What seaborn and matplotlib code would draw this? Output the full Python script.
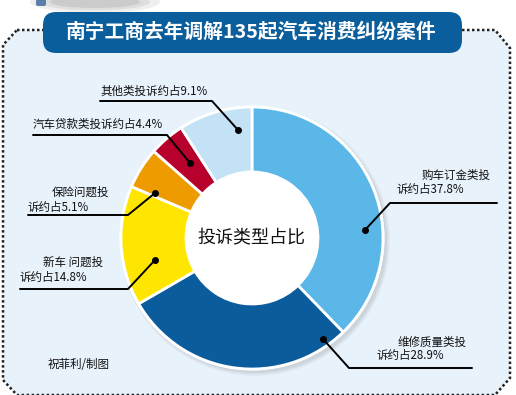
import matplotlib
matplotlib.use("Agg")
import matplotlib.pyplot as plt
import seaborn as sns
from matplotlib.patches import Polygon, FancyBboxPatch, Circle, Ellipse

sns.set_theme(style="white")
plt.rcParams['font.family'] = ['Noto Sans CJK SC', 'DejaVu Sans']

# data
categories = ['购车订金类', '维修质量类', '新车问题', '保险问题', '汽车贷款类', '其他类']
shares = [37.8, 28.9, 14.8, 5.1, 4.4, 9.1]
colors = ['#5ab7e8', '#0a5c9d', '#ffe600', '#ee9b00', '#b7002c', '#c4e2f5']
label_line1 = ['购车订金类投', '维修质量类投', '新车 问题投', '保险问题投', '汽车贷款类投诉约占4.4%', '其他类投诉约占9.1%']
label_line2 = ['诉约占37.8%', '诉约占28.9%', '诉约占14.8%', '诉约占5.1%', '', '']

W, H = 516, 395
def Y(y):
    return H - y

fig = plt.figure(figsize=(W / 100, H / 100), dpi=100)
fig.patch.set_facecolor('white')
ax = fig.add_axes([0, 0, 1, 1])

# dotted octagon frame
frame = [(17, 30), (495, 30), (510, 48), (510, 378), (495, 395), (17, 395), (3, 380), (3, 45)]
ax.add_patch(Polygon([(x, Y(y)) for x, y in frame], closed=True, facecolor='#e8f2fb',
                     edgecolor='#222222', linestyle=(0, (1, 1)), linewidth=1.8, zorder=1))

# faint grey fragment top left (cut-off picture above the chart)
for i, a in enumerate([0.12, 0.15, 0.2]):
    ax.add_patch(Ellipse((95, Y(2)), 130 - i * 20, 22 - i * 5, facecolor='#808080',
                         edgecolor='none', alpha=a, zorder=1))
ax.add_patch(FancyBboxPatch((36, Y(6)), 10, 8, boxstyle='round,pad=0,rounding_size=2',
                            facecolor='#5a7fa8', edgecolor='none', zorder=1))

# banner
ax.add_patch(FancyBboxPatch((43, Y(53)), 419, 41, boxstyle='round,pad=0,rounding_size=13',
                            facecolor='#0b5e9c', edgecolor='none', zorder=2))
ax.text(251, Y(32), '南宁工商去年调解135起汽车消费纠纷案件', color='white', fontsize=14.2,
        fontweight='bold', ha='center', va='center', zorder=3)

# donut
cx, cy, r_out, r_in = 252, 238, 131, 66
for i, a in enumerate([0.05, 0.07, 0.09]):
    ax.add_patch(Circle((cx + 3, Y(cy + 3)), r_out + 4 - i * 1.5, facecolor='#606060',
                        edgecolor='none', alpha=a, zorder=2))
ax.add_patch(Circle((cx, Y(cy)), r_out + 1.5, facecolor='white', edgecolor='none', zorder=2))
ax.pie(shares, colors=colors, startangle=90, counterclock=False, center=(cx, Y(cy)),
       radius=r_out, wedgeprops=dict(width=r_out - r_in, edgecolor='white', linewidth=2, zorder=3))
ax.text(cx - 1, Y(cy), '投诉类型占比', fontsize=13, ha='center', va='center', color='#111111', zorder=4)

# leader lines: (underline start, underline end, dot)
leaders = [
    ((497, 203), (390, 203), (365, 230)),
    ((472, 368), (349, 368), (323, 339)),
    ((20, 289), (128, 289), (155, 260)),
    ((28, 215), (128, 215), (155, 193)),
    ((33, 135), (167, 135), (190, 163)),
    ((100, 101), (212, 101), (238, 130)),
]
for (x0, y0), (x1, y1), (xd, yd) in leaders:
    ax.plot([x0, x1, xd], [Y(y0), Y(y1), Y(yd)], color='black', linewidth=1.4, zorder=5)
    ax.plot([xd], [Y(yd)], 'o', color='black', markersize=4, zorder=6)

# label text positions: (x line1, y line1, x line2, y line2)
label_pos = [
    (422, 175, 397, 190),
    (398, 342, 377, 355),
    (43, 262, 20, 277),
    (52, 192, 28, 207),
    (33, 124, 0, 0),
    (100, 91, 0, 0),
]
for t1, t2, (x1, y1, x2, y2) in zip(label_line1, label_line2, label_pos):
    ax.text(x1, Y(y1), t1, fontsize=8.3, ha='left', va='center', color='#111111', zorder=6)
    if t2:
        ax.text(x2, Y(y2), t2, fontsize=8.3, ha='left', va='center', color='#111111', zorder=6)

ax.text(48, Y(364), '祝菲利/制图', fontsize=8.3, ha='left', va='center', color='#111111')

ax.set_xlim(0, W)
ax.set_ylim(0, H)
ax.set_aspect('equal')
ax.axis('off')

fig.savefig('out.png', dpi=100, facecolor='white')
